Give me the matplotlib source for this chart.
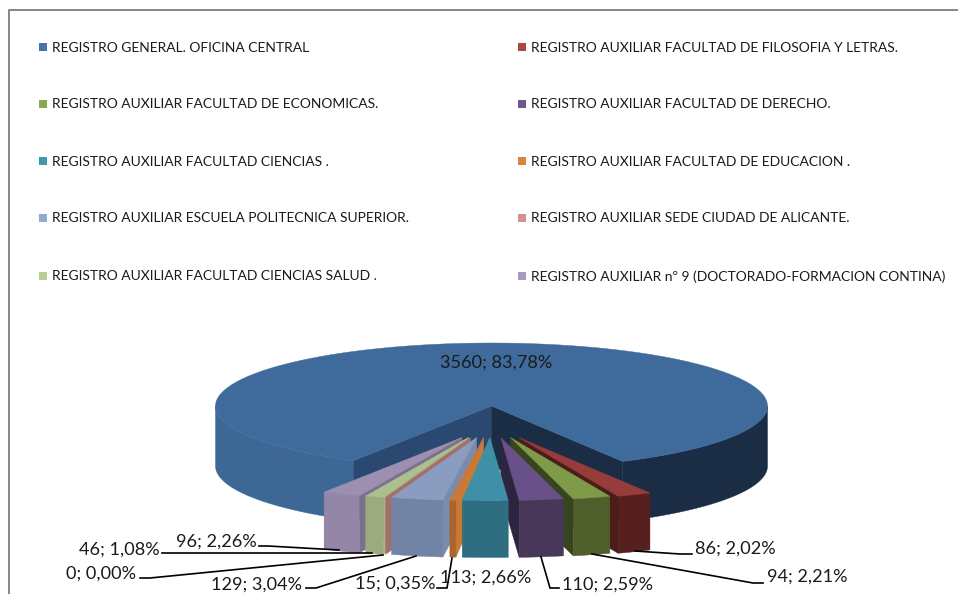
import numpy as np
import matplotlib
matplotlib.use("Agg")
import matplotlib.pyplot as plt
from matplotlib.patches import Polygon, Rectangle

plt.rcParams['font.family'] = ['Lato', 'DejaVu Sans']

categories = [
    "REGISTRO GENERAL. OFICINA CENTRAL",
    "REGISTRO AUXILIAR FACULTAD DE FILOSOFIA Y LETRAS.",
    "REGISTRO AUXILIAR FACULTAD DE ECONOMICAS.",
    "REGISTRO AUXILIAR FACULTAD DE DERECHO.",
    "REGISTRO AUXILIAR FACULTAD CIENCIAS .",
    "REGISTRO AUXILIAR FACULTAD DE EDUCACION .",
    "REGISTRO AUXILIAR ESCUELA POLITECNICA SUPERIOR.",
    "REGISTRO AUXILIAR SEDE CIUDAD DE ALICANTE.",
    "REGISTRO AUXILIAR FACULTAD CIENCIAS SALUD .",
    "REGISTRO AUXILIAR nº 9 (DOCTORADO-FORMACION CONTINA)",
]
values = [3560, 86, 94, 110, 113, 15, 129, 0, 46, 96]
value_labels = ["3560; 83,78%", "86; 2,02%", "94; 2,21%", "110; 2,59%", "113; 2,66%",
                "15; 0,35%", "129; 3,04%", "0; 0,00%", "46; 1,08%", "96; 2,26%"]
legend_colors = ["#4572A7", "#AA4643", "#89A54E", "#71588F", "#4198AF",
                 "#DB843D", "#93A9CF", "#D19392", "#B9CD96", "#A99BBD"]
top_colors = ["#3F6B9C", "#963C3A", "#7F9A48", "#685088", "#3F8FA6",
              "#C9783A", "#8A9DC0", "#A46F6B", "#ABC08C", "#9D8FB0"]
front_colors = ["#3D6896", "#55201E", "#4F5F2B", "#483758", "#2E6E80",
                "#A9652F", "#7284A5", "#A46F6B", "#9CAB7C", "#9386A6"]
wall_colors = ["#1A2D45", "#4A1C1A", "#37451F", "#2E2440", "#2E6E80",
               "#C97A35", "#7A8CAD", "#A46F6B", "#A8B888", "#7A7090"]

# layout: pixel geometry of the projected pie
CX, CY, A, B, DEPTH = 491.5, 406.0, 276.0, 63.0, 60.0
ROT = -0.8
EXP, EXP_CX, EXP_Y, EXP_DEPTH = 0.24, 491.0, 437.5, 57.0

# label text anchors and leader polylines (layout)
label_pos = [(496, 363), (735, 549), (807, 577), (608, 585), (486, 578),
             (395, 584), (257, 585), (101, 574), (119, 550), (216, 542)]
leaders = [None, [(635, 551), (680, 554), (692, 554)], [(592, 554), (753, 583), (763, 583)],
           [(541, 557), (550, 588), (559, 588)], None, [(452, 558), (447, 588), (437, 588)],
           [(416, 556), (316, 588), (306, 588)], [(383, 555), (150, 578), (140, 578)],
           [(372, 553), (173, 553), (162, 553)], [(339, 550), (268, 546), (259, 546)]]

fig = plt.figure(figsize=(9.58, 5.94), dpi=100)
ax = fig.add_axes([0, 0, 1, 1])
ax.set_xlim(0, 958)
ax.set_ylim(594, 0)
ax.axis("off")

# frame: left and top edges only are visible in the crop
ax.plot([9.5, 9.5, 958], [594, 10, 10], color="#868686", lw=1.4, zorder=1)

# legend
rows = [47, 104, 161, 218, 276]
cols = [39, 518]
for i, (name, col) in enumerate(zip(categories, legend_colors)):
    x, y = cols[i % 2], rows[i // 2]
    ax.add_patch(Rectangle((x, y - 4), 8, 7.5, fc=col, ec="none", zorder=2))
    ax.text(x + 13, y + 0.5, name, fontsize=9.97, color="#1a1a1a", va="center", ha="left", zorder=2)

# angles: measured from the front of the pie, positive to the right
vals = np.array(values, float)
sweep = vals / vals.sum() * 360.0
main_open = 180 - sweep[0] / 2   # half of the opening at the front
edges = main_open + ROT - np.concatenate([[0], np.cumsum(sweep[1:])])


def rim(theta_deg):
    t = np.radians(theta_deg)
    return np.sin(t), np.cos(t)


def main_pie():
    r_edge, l_edge = edges[0], edges[-1]
    th_l = np.linspace(l_edge, -90, 80)
    sx, cy = rim(th_l)
    xs, ys = CX + A * sx, CY + B * cy
    ax.add_patch(Polygon(np.r_[np.c_[xs, ys], np.c_[xs, ys + DEPTH][::-1]],
                         fc=front_colors[0], ec=front_colors[0], lw=.3, zorder=3))
    th_r = np.linspace(r_edge, 90, 80)
    sx, cy = rim(th_r)
    xs, ys = CX + A * sx, CY + B * cy
    ax.add_patch(Polygon(np.r_[np.c_[xs, ys], np.c_[xs, ys + DEPTH][::-1]],
                         fc=wall_colors[0], ec=wall_colors[0], lw=.3, zorder=3))
    for edge, fc in ((l_edge, "#2B4870"), (r_edge, "#1A2D45")):
        sx, cy = rim(edge)
        p = (CX + A * sx, CY + B * cy)
        ax.add_patch(Polygon([(CX, CY), p, (p[0], p[1] + DEPTH), (CX, CY + DEPTH)],
                             fc=fc, ec=fc, lw=.3, zorder=3))
    th = np.linspace(r_edge, 360 + l_edge, 240)
    sx, cy = rim(th)
    pts = np.c_[CX + A * sx, CY + B * cy]
    ax.add_patch(Polygon(np.r_[[(CX, CY)], pts], fc=top_colors[0], ec=top_colors[0], lw=.3, zorder=4))


main_pie()

# draw order of the exploded slices: outermost first, towards the centre
bis = (edges[:-1] + edges[1:]) / 2
order = sorted(range(len(bis)), key=lambda k: -abs(bis[k]))
z = 5
for k in order:
    i = k + 1
    hi, lo = edges[k], edges[k + 1]
    ax_x = EXP_CX + A * EXP * np.sin(np.radians(bis[k]))
    apex = (ax_x, EXP_Y)

    def outer(th):
        s, c = rim(th)
        return ax_x + A * s, EXP_Y + B * c

    # side wall facing the viewer
    wall = lo if lo > 0 else (hi if hi < 0 else None)
    if wall is not None:
        o = outer(wall)
        ax.add_patch(Polygon([apex, o, (o[0], o[1] + EXP_DEPTH), (apex[0], apex[1] + EXP_DEPTH)],
                             fc=wall_colors[i], ec=wall_colors[i], lw=.3, zorder=z))
    th = np.linspace(hi, lo, 12)
    s, c = rim(th)
    xs, ys = ax_x + A * s, EXP_Y + B * c
    if values[i] > 0:
        ax.add_patch(Polygon(np.r_[np.c_[xs, ys], np.c_[xs, ys + EXP_DEPTH][::-1]],
                             fc=front_colors[i], ec=front_colors[i], lw=.3, zorder=z))
        ax.add_patch(Polygon(np.r_[[apex], np.c_[xs, ys]],
                             fc=top_colors[i], ec=top_colors[i], lw=.3, zorder=z))
    z += 1

# leaders and data labels
for pts in leaders:
    if pts:
        ax.plot(*zip(*pts), color="black", lw=1.2, zorder=30, solid_joinstyle="miter")
for txt, (x, y) in zip(value_labels, label_pos):
    ax.text(x, y, txt, fontsize=13.1, color="#1a1a1a", ha="center", va="center", zorder=31)

fig.savefig("out.png", dpi=100, facecolor="white")
